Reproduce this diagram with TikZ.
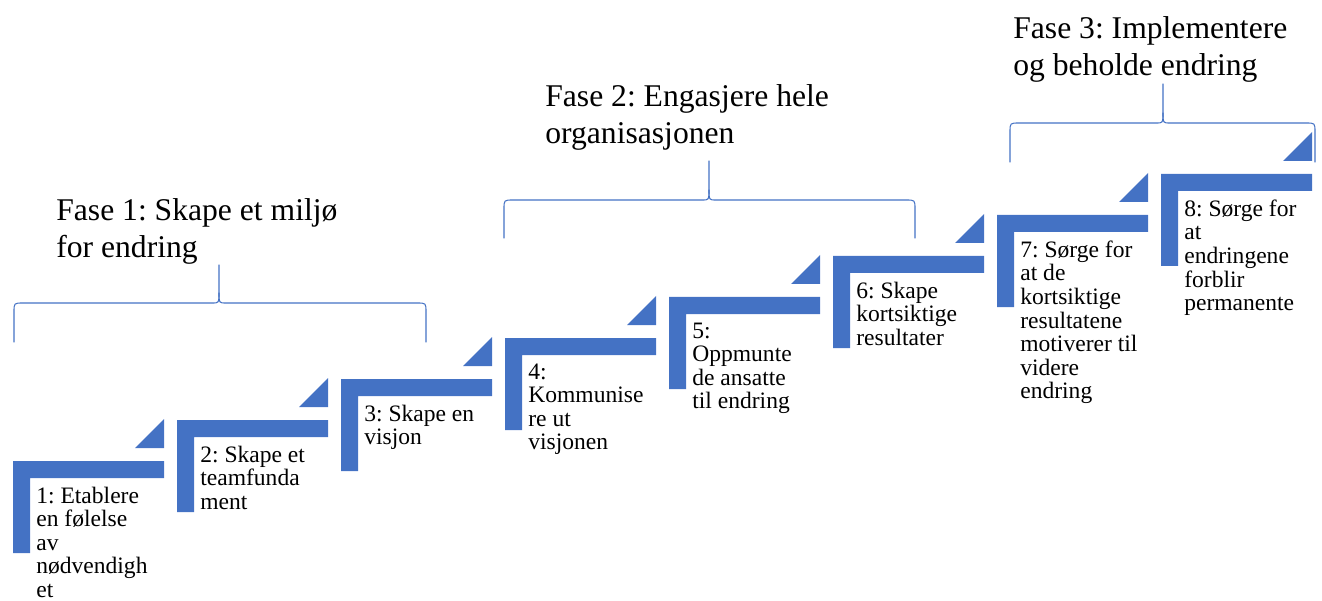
\documentclass[tikz,border=0pt]{standalone}
\usepackage{fontspec}
\setmainfont{Liberation Serif}
\usepackage{tikz}
\frenchspacing

\begin{document}
\begin{tikzpicture}[x=0.02cm, y=-0.02cm, line join=round, line cap=round]

    % Define custom colors to match the image
    \definecolor{stepblue}{RGB}{68, 114, 196}

    \tikzset{
        steptext/.style={anchor=north west, inner sep=0pt, align=left,
            font=\fontsize{13.4}{13.4}\selectfont, execute at begin node=\strut},
        phasetext/.style={anchor=north west, inner sep=0pt, align=left,
            font=\fontsize{18}{21.05}\selectfont, execute at begin node=\strut},
        phasebrace/.style={stepblue, line width=0.6pt},
    }

    \useasboundingbox (0,0) rectangle (1322,601);

    % =======================================================
    % STEPS
    % =======================================================
    \foreach \i/\txt in {
        1/{1: Etablere\\en følelse\\av\\nødvendigh\\et},
        2/{2: Skape et\\teamfunda\\ment},
        3/{3: Skape en\\visjon},
        4/{4:\\Kommunise\\re ut\\visjonen},
        5/{5:\\Oppmunte\\de ansatte\\til endring},
        6/{6: Skape\\kortsiktige\\resultater},
        7/{7: Sørge for\\at de\\kortsiktige\\resultatene\\motiverer til\\videre\\endring},
        8/{8: Sørge for\\at\\endringene\\forblir\\permanente}} {
        \pgfmathsetmacro{\sx}{13+164*(\i-1)}
        \pgfmathsetmacro{\sy}{461-41*(\i-1)}

        % 1. L-shaped step
        \fill[stepblue] (\sx,\sy) -- ++(151,0) -- ++(0,17) -- ++(-134,0)
            -- ++(0,75) -- ++(-17,0) -- cycle;

        % 2. Small triangle above the step
        \fill[stepblue] (\sx+122,\sy-13) -- (\sx+151,\sy-13) -- (\sx+151,\sy-42) -- cycle;

        % 3. Step label (first baseline 42px below the bar top)
        \node[steptext] (s\i) at (\sx+23,\sy+25.5) {\txt};
    }

    % =======================================================
    % PHASE BRACES
    % =======================================================
    \foreach \xl/\xm/\xr/\yb/\ym/\yt in {14/219/426/342/303/265,
        504/709/915/238/200/161, 1010/1163/1315/162/123/84} {
        \draw[phasebrace] (\xl,\yb) -- (\xl,\ym+9) .. controls (\xl,\ym) .. (\xl+9,\ym)
            -- (\xm-7,\ym) .. controls (\xm,\ym) .. (\xm,\ym-10) -- (\xm,\yt);
        \draw[phasebrace] (\xr,\yb) -- (\xr,\ym+9) .. controls (\xr,\ym) .. (\xr-9,\ym)
            -- (\xm+7,\ym) .. controls (\xm,\ym) .. (\xm,\ym-10);
    }

    % Phase labels
    \node[phasetext] (f1) at (56,198) {Fase 1: Skape et miljø\\for endring};
    \node[phasetext] (f2) at (545,84) {Fase 2: Engasjere hele\\organisasjonen};
    \node[phasetext] (f3) at (1013,16) {Fase 3: Implementere\\og beholde endring};

\end{tikzpicture}
\end{document}
